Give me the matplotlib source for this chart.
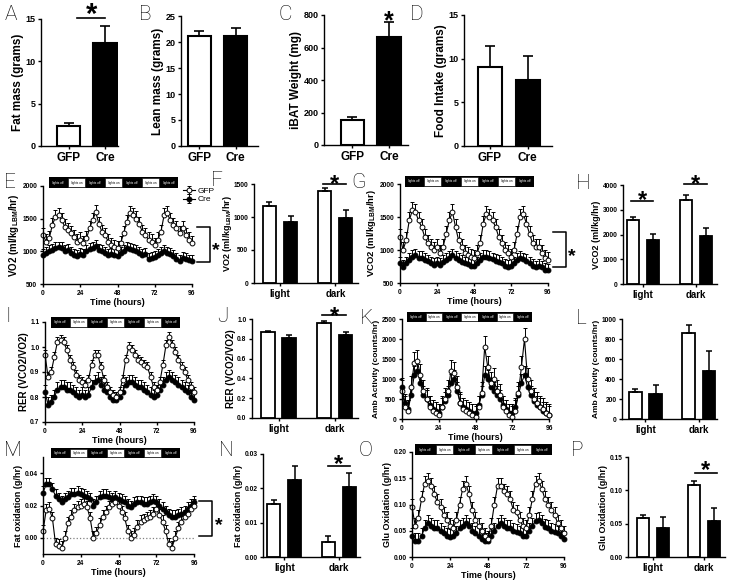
import numpy as np
import matplotlib
matplotlib.use('Agg')
import matplotlib.pyplot as plt
from matplotlib.patches import Rectangle

W, H = 731, 583
plt.rcParams['font.family'] = ['Liberation Sans', 'DejaVu Sans']
plt.rcParams['axes.linewidth'] = 1.0

# ---------------- data ----------------
genotypes = ['GFP', 'Cre']
phases = ['light', 'dark']
light_phases = ['lights off', 'lights on', 'lights off', 'lights on',
                'lights off', 'lights on', 'lights off']

fat_mass = [2.4, 12.2]
fat_mass_sem = [0.35, 2.0]
lean_mass = [21.1, 21.1]
lean_mass_sem = [1.1, 1.5]
ibat = [155, 665]
ibat_sem = [20, 90]
food = [9.1, 7.5]
food_sem = [2.4, 2.8]

vo2_gfp_bar = [1170, 1390]
vo2_gfp_bar_sem = [50, 50]
vo2_cre_bar = [920, 990]
vo2_cre_bar_sem = [100, 110]
vco2_gfp_bar = [2570, 3400]
vco2_gfp_bar_sem = [150, 200]
vco2_cre_bar = [1760, 1950]
vco2_cre_bar_sem = [260, 320]
rer_gfp_bar = [0.87, 0.96]
rer_gfp_bar_sem = [0.01, 0.015]
rer_cre_bar = [0.81, 0.84]
rer_cre_bar_sem = [0.03, 0.03]
act_gfp_bar = [270, 860]
act_gfp_bar_sem = [30, 85]
act_cre_bar = [255, 480]
act_cre_bar_sem = [85, 205]
fat_gfp_bar = [0.0155, 0.0045]
fat_gfp_bar_sem = [0.0012, 0.0015]
fat_cre_bar = [0.0225, 0.0205]
fat_cre_bar_sem = [0.004, 0.004]
glu_gfp_bar = [0.058, 0.108]
glu_gfp_bar_sem = [0.005, 0.006]
glu_cre_bar = [0.043, 0.054]
glu_cre_bar_sem = [0.017, 0.02]

hours = list(range(0, 97, 2))

vo2_gfp = [1250, 1150, 1200, 1400, 1530, 1560, 1480, 1380, 1320, 1280, 1220, 1150,
           1180, 1120, 1200, 1350, 1480, 1600, 1420, 1300, 1250, 1150, 1100, 1060,
           1050, 1120, 1280, 1450, 1580, 1550, 1500, 1420, 1300, 1250, 1180, 1150,
           1100, 1180, 1300, 1550, 1580, 1480, 1400, 1350, 1280, 1350, 1250, 1180, 1120]
vo2_cre = [950, 980, 1000, 1020, 1050, 1060, 1050, 1000, 1020, 980, 950, 930,
           960, 950, 1000, 1030, 1050, 1080, 1020, 1000, 980, 950, 960, 940,
           930, 980, 1000, 1050, 1040, 1020, 1000, 980, 950, 960, 880, 900,
           920, 940, 980, 1000, 980, 960, 930, 880, 850, 900, 880, 860, 850]
vo2_sem = [110, 90]

vco2_gfp = [1200, 1000, 1150, 1450, 1600, 1580, 1450, 1350, 1200, 1100, 1050, 1000,
            1050, 950, 1050, 1250, 1450, 1580, 1350, 1150, 1050, 950, 920, 900,
            880, 950, 1100, 1400, 1550, 1500, 1450, 1350, 1200, 1100, 1000, 950,
            900, 1000, 1250, 1500, 1550, 1400, 1250, 1100, 1050, 1050, 950, 880, 850]
vco2_cre = [800, 750, 800, 850, 900, 920, 880, 880, 850, 830, 800, 780,
            800, 780, 820, 850, 880, 920, 880, 850, 820, 800, 790, 760,
            760, 800, 850, 900, 900, 880, 860, 840, 820, 800, 760, 750,
            760, 800, 850, 880, 860, 840, 800, 760, 740, 760, 740, 700, 690]
vco2_sem = [120, 100]

rer_gfp = [0.97, 0.88, 0.90, 0.96, 1.02, 1.03, 1.02, 0.99, 0.95, 0.92, 0.89, 0.87,
           0.86, 0.85, 0.87, 0.93, 0.97, 0.97, 0.92, 0.87, 0.84, 0.82, 0.81, 0.80,
           0.82, 0.87, 0.95, 1.00, 0.99, 0.97, 0.95, 0.94, 0.93, 0.92, 0.88, 0.84,
           0.83, 0.86, 0.93, 1.01, 1.04, 1.01, 0.98, 0.95, 0.92, 0.90, 0.87, 0.84, 0.82]
rer_cre = [0.82, 0.77, 0.78, 0.80, 0.83, 0.84, 0.84, 0.83, 0.83, 0.82, 0.81, 0.80,
           0.81, 0.80, 0.81, 0.84, 0.86, 0.87, 0.85, 0.83, 0.82, 0.80, 0.79, 0.79,
           0.80, 0.82, 0.85, 0.86, 0.86, 0.85, 0.84, 0.84, 0.83, 0.82, 0.81, 0.80,
           0.81, 0.83, 0.85, 0.87, 0.88, 0.87, 0.86, 0.85, 0.84, 0.83, 0.82, 0.80, 0.79]
rer_sem = [0.02, 0.03]

act_gfp = [700, 300, 200, 800, 1400, 1450, 1100, 700, 500, 300, 200, 150,
           100, 300, 500, 700, 1200, 1150, 800, 400, 250, 200, 150, 100,
           50, 300, 650, 1800, 1300, 900, 1000, 700, 600, 300, 200, 100,
           50, 200, 650, 1300, 2000, 1000, 700, 500, 400, 300, 250, 150, 100]
act_cre = [800, 400, 250, 600, 1100, 1200, 900, 600, 500, 350, 250, 200,
           150, 300, 450, 600, 900, 1000, 700, 400, 300, 250, 200, 150,
           150, 350, 600, 1100, 1000, 800, 700, 600, 500, 350, 250, 150,
           150, 300, 600, 900, 1100, 800, 600, 450, 350, 300, 200, 150, 100]
act_sem = [280, 220]

fatox_gfp = [0.004, 0.017, 0.018, 0.012, -0.004, -0.005, -0.006, 0.000, 0.009, 0.013, 0.017, 0.019,
             0.020, 0.021, 0.019, 0.012, 0.000, 0.003, 0.008, 0.013, 0.016, 0.019, 0.021, 0.022,
             0.020, 0.016, 0.012, 0.004, 0.000, 0.002, 0.007, 0.010, 0.011, 0.012, 0.013, 0.015,
             0.018, 0.014, 0.010, 0.004, -0.004, -0.006, 0.000, 0.006, 0.010, 0.013, 0.015, 0.018, 0.020]
fatox_cre = [0.028, 0.033, 0.033, 0.030, 0.026, 0.024, 0.022, 0.024, 0.025, 0.027, 0.027, 0.028,
             0.027, 0.026, 0.025, 0.024, 0.020, 0.022, 0.025, 0.026, 0.026, 0.025, 0.024, 0.025,
             0.024, 0.023, 0.022, 0.020, 0.019, 0.021, 0.022, 0.022, 0.021, 0.021, 0.022, 0.023,
             0.022, 0.020, 0.018, 0.016, 0.014, 0.013, 0.013, 0.014, 0.015, 0.016, 0.018, 0.020, 0.022]
fatox_sem = [0.004, 0.004]

glu_gfp = [0.095, 0.060, 0.075, 0.110, 0.140, 0.145, 0.135, 0.120, 0.105, 0.095, 0.080, 0.070,
           0.060, 0.055, 0.070, 0.100, 0.130, 0.140, 0.120, 0.090, 0.070, 0.060, 0.050, 0.040,
           0.035, 0.060, 0.100, 0.135, 0.135, 0.125, 0.120, 0.110, 0.090, 0.085, 0.070, 0.060,
           0.055, 0.080, 0.110, 0.140, 0.145, 0.130, 0.110, 0.100, 0.090, 0.080, 0.065, 0.055, 0.045]
glu_cre = [0.040, 0.030, 0.030, 0.040, 0.055, 0.065, 0.060, 0.055, 0.055, 0.050, 0.045, 0.040,
           0.038, 0.040, 0.045, 0.055, 0.060, 0.065, 0.060, 0.050, 0.045, 0.040, 0.035, 0.030,
           0.030, 0.040, 0.050, 0.060, 0.065, 0.060, 0.055, 0.055, 0.050, 0.048, 0.045, 0.040,
           0.040, 0.050, 0.060, 0.068, 0.070, 0.065, 0.058, 0.055, 0.050, 0.048, 0.045, 0.040, 0.035]
glu_sem = [0.015, 0.015]

# ---------------- helpers ----------------
fig = plt.figure(figsize=(W / 100, H / 100), dpi=100)


def add_ax(l, t, r, b):
    return fig.add_axes([l / W, 1 - b / H, (r - l) / W, (b - t) / H])


def style(ax, ylabel, yticks, yfmt, ylim, lsize=7, tsize=4.8, lpad=1):
    ax.spines['top'].set_visible(False)
    ax.spines['right'].set_visible(False)
    ax.set_ylim(ylim)
    ax.set_yticks(yticks, labels=[yfmt.format(v) for v in yticks],
                  fontsize=tsize, fontweight='bold')
    ax.tick_params(axis='both', direction='out', length=2.5, width=1, pad=1.5)
    ax.set_ylabel(ylabel, fontsize=lsize, fontweight='bold', labelpad=lpad)


def two_bar(ax, vals, errs, xlim):
    ax.bar([0, 1], vals, width=0.64, color=['white', 'black'],
           edgecolor='black', linewidth=1.5)
    ax.errorbar([0, 1], vals, yerr=[[0, 0], errs], fmt='none', ecolor='black',
                elinewidth=1.2, capsize=3.5, capthick=1.2)
    ax.set_xlim(xlim)
    ax.set_xticks([0, 1], labels=genotypes, fontsize=8.5, fontweight='bold')


def ld_bar(ax, g, ge, c, ce, xlim):
    xc = np.arange(len(phases))
    ax.bar(xc - 0.19, g, 0.24, color='white', edgecolor='black', linewidth=1.3)
    ax.bar(xc + 0.19, c, 0.24, color='black', edgecolor='black', linewidth=1.3)
    ax.errorbar(xc - 0.19, g, yerr=[[0, 0], ge], fmt='none', ecolor='black',
                elinewidth=1.1, capsize=2.5, capthick=1.1)
    ax.errorbar(xc + 0.19, c, yerr=[[0, 0], ce], fmt='none', ecolor='black',
                elinewidth=1.1, capsize=2.5, capthick=1.1)
    ax.set_xlim(xlim)
    ax.set_xticks(xc, labels=phases, fontsize=7, fontweight='bold')


def star(ax, x, y, fs=17):
    ax.annotate('*', xy=(x, y), xytext=(0, -0.58 * fs), textcoords='offset points',
                ha='center', va='baseline', fontsize=fs, fontweight='bold',
                annotation_clip=False)


def sig(ax, x0, x1, y, ystar, fs=17):
    ax.plot([x0, x1], [y, y], color='black', lw=1.2, clip_on=False)
    star(ax, (x0 + x1) / 2, ystar, fs)


def ts(ax, gfp, cre, sem):
    zeros = np.zeros(len(hours))
    c = ax.errorbar(hours, cre, yerr=[zeros, np.full(len(hours), sem[1])], fmt='-o',
                    color='black', ms=3.5, lw=0.8, elinewidth=0.7, capsize=1.3,
                    mew=0.7, clip_on=False)
    g = ax.errorbar(hours, gfp, yerr=[zeros, np.full(len(hours), sem[0])], fmt='-o',
                    color='black', mfc='white', ms=3.5, lw=0.8, elinewidth=0.7,
                    capsize=1.3, mew=0.7, clip_on=False)
    ax.set_xlim(0, 96)
    ax.set_xticks([0, 24, 48, 72, 96], labels=['0', '24', '48', '72', '96'],
                  fontsize=4.8, fontweight='bold')
    ax.set_xlabel('Time (hours)', fontsize=6.5, fontweight='bold', labelpad=1)
    return g, c


def bracket(ax, y0, y1, ystar):
    ax.plot([99, 107.5, 107.5, 99], [y1, y1, y0, y0], color='black', lw=1.1,
            clip_on=False)
    star(ax, 111.5, ystar, fs=14)


def lights(l, t, r, b):
    lax = add_ax(l, t, r, b)
    for i, ph in enumerate(light_phases):
        dark = ph == 'lights off'
        lax.add_patch(Rectangle((i, 0), 1, 1, facecolor='black', edgecolor='black', lw=0))
        if not dark:
            lax.add_patch(Rectangle((i + 0.05, 0.12), 0.9, 0.76, facecolor='white',
                                    edgecolor='black', lw=0.4))
        lax.text(i + 0.5, 0.5, ph, color='white' if dark else 'black', fontsize=2.2,
                 ha='center', va='center')
    lax.set_xlim(0, len(light_phases))
    lax.set_ylim(0, 1)
    lax.axis('off')


def letter(x, y, s):
    fig.text(x / W, 1 - y / H, s, fontsize=15, ha='left', va='center',
             family=['Roboto', 'Liberation Sans'], fontweight='light')


# ---------------- row 1 ----------------
ax = add_ax(41, 19, 118, 146)
two_bar(ax, fat_mass, fat_mass_sem, (-0.76, 1.36))
style(ax, 'Fat mass (grams)', [0, 5, 10, 15], '{}', (0, 15), lsize=8.5, tsize=6.5)
sig(ax, 0.24, 1.0, 15.1, 16.5, fs=21)

ax = add_ax(181, 16, 258, 146)
two_bar(ax, lean_mass, lean_mass_sem, (-0.51, 1.62))
style(ax, 'Lean mass (grams)', [0, 5, 10, 15, 20, 25], '{}', (0, 25), lsize=8.5, tsize=6.5)

ax = add_ax(324, 15, 408, 145)
two_bar(ax, ibat, ibat_sem, (-0.78, 1.52))
style(ax, 'iBAT Weight (mg)', [0, 200, 400, 600, 800], '{}', (0, 800), lsize=8.5, tsize=6.5)
star(ax, 1, 810, fs=18)

ax = add_ax(464, 15, 552, 146)
two_bar(ax, food, food_sem, (-0.69, 1.65))
style(ax, 'Food Intake (grams)', [0, 5, 10, 15], '{}', (0, 15), lsize=8.5, tsize=6.5)

# ---------------- row 2 ----------------
ax = add_ax(43, 186, 192, 284)
g, c = ts(ax, vo2_gfp, vo2_cre, vo2_sem)
style(ax, r'VO2 (ml/kg$_{\mathregular{LBM}}$/hr)', [500, 1000, 1500, 2000], '{}', (500, 2000))
bracket(ax, 830, 1370, 1110)
ax.legend([g, c], genotypes, loc='upper right', bbox_to_anchor=(1.15, 0.99), fontsize=6,
          frameon=False, handlelength=1.4, handletextpad=0.3, labelspacing=0.1,
          borderaxespad=0, borderpad=0)
lights(49, 177, 178, 188)

ax = add_ax(254, 184, 358, 283)
ld_bar(ax, vo2_gfp_bar, vo2_gfp_bar_sem, vo2_cre_bar, vo2_cre_bar_sem, (-0.47, 1.41))
style(ax, r'VO2 (ml/kg$_{\mathregular{LBM}}$/hr)', [0, 500, 1000, 1500], '{}', (0, 1500),
      lsize=6.5, lpad=0)
sig(ax, 0.77, 1.2, 1500, 1600)

ax = add_ax(400, 184, 548, 283)
ts(ax, vco2_gfp, vco2_cre, vco2_sem)
style(ax, r'VCO2 (ml/kg$_{\mathregular{LBM}}$/hr)', [500, 1000, 1500, 2000], '{}', (500, 2000),
      lsize=6.8)
bracket(ax, 745, 1275, 1010)
lights(405, 176, 534, 187)

ax = add_ax(623, 185, 717, 284)
ld_bar(ax, vco2_gfp_bar, vco2_gfp_bar_sem, vco2_cre_bar, vco2_cre_bar_sem, (-0.38, 1.40))
style(ax, 'VCO2 (ml/kg/hr)', [0, 1000, 2000, 3000, 4000], '{}', (0, 4000), lsize=6.5)
sig(ax, -0.23, 0.19, 3350, 3680)
sig(ax, 0.77, 1.21, 4040, 4330)

# ---------------- row 3 ----------------
ax = add_ax(45, 322, 194, 422)
ts(ax, rer_gfp, rer_cre, rer_sem)
style(ax, 'RER (VCO2/VO2)', [0.7, 0.8, 0.9, 1.0, 1.1], '{:.1f}', (0.7, 1.1))
lights(51, 317, 180, 328)

ax = add_ax(252, 319, 358, 418)
ld_bar(ax, rer_gfp_bar, rer_gfp_bar_sem, rer_cre_bar, rer_cre_bar_sem, (-0.47, 1.41))
style(ax, 'RER (VCO2/VO2)', [0.0, 0.2, 0.4, 0.6, 0.8, 1.0], '{:.1f}', (0, 1.0))
sig(ax, 0.77, 1.2, 1.04, 1.1)

ax = add_ax(402, 319, 549, 419)
ts(ax, act_gfp, act_cre, act_sem)
style(ax, 'Amb Activity (counts/hr)', [0, 500, 1000, 1500, 2000, 2500], '{}', (0, 2500),
      lsize=6)
lights(407, 312, 532, 322)

ax = add_ax(622, 319, 717, 419)
ld_bar(ax, act_gfp_bar, act_gfp_bar_sem, act_cre_bar, act_cre_bar_sem, (-0.44, 1.34))
style(ax, 'Amb Activity (counts/hr)', [0, 200, 400, 600, 800, 1000], '{}', (0, 1000),
      lsize=6)

# ---------------- row 4 ----------------
ax = add_ax(43, 457, 194, 554)
ax.axhline(0, color='grey', ls=':', lw=0.9, zorder=0)
ts(ax, fatox_gfp, fatox_cre, fatox_sem)
style(ax, 'Fat oxidation (g/hr)', [0.0, 0.02, 0.04], '{:.2f}', (-0.01, 0.05), lsize=6.5)
bracket(ax, 0.0012, 0.0228, 0.012)
lights(51, 448, 180, 458)

ax = add_ax(263, 454, 360, 557)
ld_bar(ax, fat_gfp_bar, fat_gfp_bar_sem, fat_cre_bar, fat_cre_bar_sem, (-0.39, 1.39))
style(ax, 'Fat oxidation (g/hr)', [0.0, 0.01, 0.02, 0.03], '{:.2f}', (0, 0.03), lsize=6.5)
sig(ax, 0.8, 1.2, 0.0265, 0.029)

ax = add_ax(412, 452, 564, 557)
ts(ax, glu_gfp, glu_cre, glu_sem)
style(ax, 'Glu Oxidation (g/hr)', [0.0, 0.05, 0.10, 0.15, 0.20], '{:.2f}', (0, 0.2),
      lsize=6.5)
lights(415, 444, 552, 455)

ax = add_ax(628, 457, 725, 557)
ld_bar(ax, glu_gfp_bar, glu_gfp_bar_sem, glu_cre_bar, glu_cre_bar_sem, (-0.49, 1.41))
style(ax, 'Glu Oxidation (g/hr)', [0.0, 0.05, 0.10, 0.15], '{:.2f}', (0, 0.15), lsize=6.5)
sig(ax, 0.82, 1.25, 0.126, 0.141)

# ---------------- panel letters ----------------
for s, x, y in [('A', 5, 15), ('B', 139, 15), ('C', 279, 14), ('D', 410, 15),
                ('E', 4, 182), ('F', 211, 180), ('G', 351, 182), ('H', 576, 184),
                ('I', 5, 317), ('J', 217, 317), ('K', 360, 318), ('L', 576, 318),
                ('M', 4, 450), ('N', 219, 450), ('O', 359, 450), ('P', 571, 450)]:
    letter(x, y, s)

fig.savefig('out.png', dpi=100)
